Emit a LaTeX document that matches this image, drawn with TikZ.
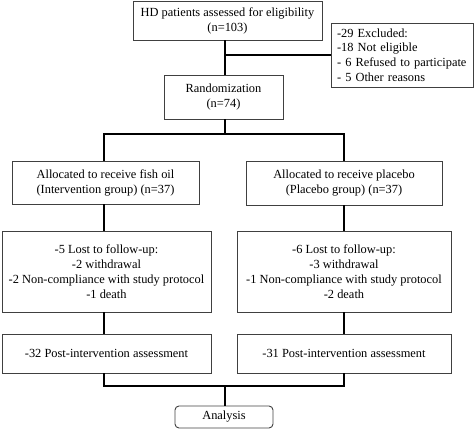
\documentclass[tikz,border=0pt]{standalone}
\usepackage{fontspec}
\setmainfont{Liberation Serif}
\begin{document}
\begin{tikzpicture}[x=1pt,y=-1pt,
  font=\fontsize{12.4}{15}\selectfont,
  box/.style={draw=black!75, line width=0.9pt, align=center, inner sep=0pt},
  conn/.style={line width=1.5pt, black}]
\useasboundingbox (0,0) rectangle (474,430);
\node[box, minimum width=189pt, minimum height=39pt] (top) at (227.5,20.5) {HD patients assessed for eligibility\\(n=103)};
\node[box, align=left, text width=130pt, inner xsep=6pt, minimum height=64pt, font=\fontsize{12.4}{14.7}\selectfont] (excl) at (402,55) {-29 Excluded:\\-18 Not eligible\\- 6 Refused to participate\\- 5 Other reasons};
\node[box, minimum width=119pt, minimum height=44pt] (rand) at (223.5,97) {Randomization\\(n=74)};
\node[box, minimum width=187pt, minimum height=43pt] (allocL) at (105.5,182.5) {Allocated to receive fish oil\\(Intervention group) (n=37)};
\node[box, minimum width=196pt, minimum height=44pt] (allocR) at (344,183) {Allocated to receive placebo\\(Placebo group) (n=37)};
\node[box, minimum width=209pt, minimum height=81pt] (lostL) at (106.5,271.5) {-5 Lost to follow-up:\\-2 withdrawal\\-2 Non-compliance with study protocol\\-1 death};
\node[box, minimum width=214pt, minimum height=81pt] (lostR) at (344,271.5) {-6 Lost to follow-up:\\-3 withdrawal\\-1 Non-compliance with study protocol\\-2 death};
\node[box, minimum width=209pt, minimum height=39pt] (postL) at (106.5,353.5) {-32 Post-intervention assessment};
\node[box, minimum width=214pt, minimum height=39pt] (postR) at (344,353.5) {-31 Post-intervention assessment};
\node[box, rounded corners=4pt, minimum width=98pt, minimum height=22pt] (ana) at (224,417) {Analysis};
\coordinate (cx) at (225,55);
\coordinate (b1) at (225,134);
\coordinate (bl) at (104,134);
\coordinate (br) at (344,134);
\coordinate (c2) at (225,386);
\coordinate (c2l) at (104,386);
\coordinate (c2r) at (344,386);
\draw[conn] (top.south -| cx) -- (rand.north -| cx);
\draw[conn] (cx) -- (excl.west |- cx);
\draw[conn] (rand.south -| b1) -- (b1);
\draw[conn] (allocL.north -| bl) -- (bl) -- (br) -- (allocR.north -| br);
\draw[conn] (allocL.south -| bl) -- (lostL.north -| bl);
\draw[conn] (allocR.south -| br) -- (lostR.north -| br);
\draw[conn] (lostL.south -| bl) -- (postL.north -| bl);
\draw[conn] (lostR.south -| br) -- (postR.north -| br);
\draw[conn] (postL.south -| c2l) -- (c2l) -- (c2r) -- (postR.south -| c2r);
\draw[conn] (c2) -- (ana.north -| c2);
\end{tikzpicture}
\end{document}
